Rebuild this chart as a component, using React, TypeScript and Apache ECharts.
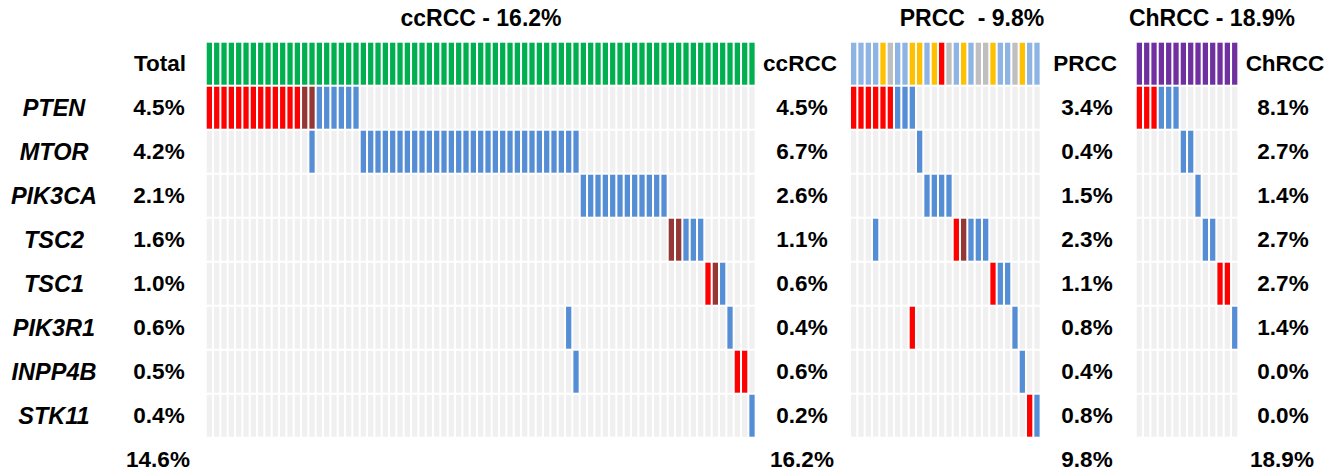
import React, { useEffect, useRef } from "react";
import * as echarts from "echarts";

// ---------------- data ----------------
const genes = ["PTEN", "MTOR", "PIK3CA", "TSC2", "TSC1", "PIK3R1", "INPP4B", "STK11"];
const rowLabels = ["Total", ...genes];

const overallPct = ["4.5%", "4.2%", "2.1%", "1.6%", "1.0%", "0.6%", "0.5%", "0.4%"];
const overallTotal = "14.6%";

const ccTitle = "ccRCC - 16.2%";
const prTitle = "PRCC  - 9.8%";
const chTitle = "ChRCC - 18.9%";

const ccPct = ["4.5%", "6.7%", "2.6%", "1.1%", "0.6%", "0.4%", "0.6%", "0.2%"];
const prPct = ["3.4%", "0.4%", "1.5%", "2.3%", "1.1%", "0.8%", "0.4%", "0.8%"];
const chPct = ["8.1%", "2.7%", "1.4%", "2.7%", "2.7%", "1.4%", "0.0%", "0.0%"];
const ccTotalPct = "16.2%";
const prTotalPct = "9.8%";
const chTotalPct = "18.9%";

// sample counts per panel (one column per altered sample)
const ccSamples = 75;
const prSamples = 26;
const chSamples = 14;

// codes: R = red, B = dark red, U = blue, G = green, P = purple, L = light blue, Y = yellow, S = grey
// alteration runs per row: [firstSample, lastSample, code]
const ccTotalRow = "GGGGGGGGGGGGGGGGGGGGGGGGGGGGGGGGGGGGGGGGGGGGGGGGGGGGGGGGGGGGGGGGGGGGGGGGGGG";
const ccGeneRuns = [
  [[0, 12, "R"], [13, 14, "B"], [15, 20, "U"]],
  [[14, 14, "U"], [21, 50, "U"]],
  [[51, 62, "U"]],
  [[63, 64, "B"], [65, 67, "U"]],
  [[68, 68, "R"], [69, 69, "B"], [70, 70, "U"]],
  [[49, 49, "U"], [71, 71, "U"]],
  [[50, 50, "U"], [72, 73, "R"]],
  [[74, 74, "U"]],
];

const prTotalRow = "LLLLYSLLYYLYRSLYLSSYLLSYLL";
const prGeneRuns = [
  [[0, 5, "R"], [6, 8, "U"]],
  [[9, 9, "U"]],
  [[10, 13, "U"]],
  [[3, 3, "U"], [14, 14, "R"], [15, 15, "B"], [16, 18, "U"]],
  [[19, 19, "R"], [20, 21, "U"]],
  [[8, 8, "R"], [22, 22, "U"]],
  [[23, 23, "U"]],
  [[24, 24, "R"], [25, 25, "U"]],
];

const chTotalRow = "PPPPPPPPPPPPPP";
const chGeneRuns = [
  [[0, 2, "R"], [3, 5, "U"]],
  [[6, 7, "U"]],
  [[8, 8, "U"]],
  [[9, 10, "U"]],
  [[11, 12, "R"]],
  [[13, 13, "U"]],
  [],
  [],
];

// ---------------- styles ----------------
const codes = [".", "R", "B", "U", "G", "P", "L", "Y", "S"];
const palette = ["#F0F0F0", "#FF0000", "#953735", "#558ED5", "#00B050", "#7030A0", "#8DB4E2", "#FFC000", "#BFBFBF"];
const FONT = '"Liberation Sans", Arial, sans-serif';

function buildData(n: number, totalRow: string, runs: any[][]) {
  const out: number[][] = [];
  for (let c = 0; c < n; c++) out.push([c, 0, codes.indexOf(totalRow[c])]);
  runs.forEach((geneRuns, gi) => {
    const row: string[] = [];
    for (let c = 0; c < n; c++) row.push(".");
    geneRuns.forEach((r: any[]) => {
      for (let c = r[0]; c <= r[1]; c++) row[c] = r[2];
    });
    for (let c = 0; c < n; c++) out.push([c, gi + 1, codes.indexOf(row[c])]);
  });
  return out;
}

const TOP = 41.7;
const ROWH = 44;
const HEIGHT = ROWH * rowLabels.length;
const PITCH = 7.333;

const panels = [
  { left: 205.7, n: ccSamples, data: buildData(ccSamples, ccTotalRow, ccGeneRuns) },
  { left: 850, n: prSamples, data: buildData(prSamples, prTotalRow, prGeneRuns) },
  { left: 1135.7, n: chSamples, data: buildData(chSamples, chTotalRow, chGeneRuns) },
];

function rowY(i: number) {
  return TOP + ROWH * i + ROWH / 2;
}

function txt(text: string, x: number, y: number, opts: any = {}) {
  return {
    type: "text",
    x,
    y,
    silent: true,
    style: {
      text,
      fill: "#000",
      align: opts.align || "center",
      verticalAlign: "middle",
      fontFamily: FONT,
      fontWeight: "bold",
      fontStyle: opts.italic ? "italic" : "normal",
      fontSize: opts.size || 22.5,
    },
  };
}

export default function App() {
  const ref = useRef<HTMLDivElement>(null);
  useEffect(() => {
    if (!ref.current) return;
    const chart = echarts.init(ref.current, undefined, { renderer: "svg" });

    const grids = panels.map((p) => ({
      left: p.left,
      top: TOP,
      width: p.n * PITCH,
      height: HEIGHT,
      containLabel: false,
    }));
    const xAxes = panels.map((p, i) => ({
      type: "category",
      gridIndex: i,
      data: Array.from({ length: p.n }, (_, k) => String(k)),
      show: false,
    }));
    const yAxes = panels.map((_, i) => ({
      type: "category",
      gridIndex: i,
      inverse: true,
      data: rowLabels,
      show: false,
    }));
    const series = panels.map((p, i) => ({
      type: "custom",
      xAxisIndex: i,
      yAxisIndex: i,
      silent: true,
      data: p.data,
      renderItem: (params: any, api: any) => {
        const c = api.coord([api.value(0), api.value(1)]);
        const s = api.size([1, 1]);
        const w = s[0] * 0.72;
        const h = s[1] - 2;
        return {
          type: "rect",
          shape: { x: c[0] - w / 2, y: c[1] - h / 2, width: w, height: h },
          style: { fill: palette[api.value(2)] },
        };
      },
    }));

    const graphics: any[] = [];
    // titles
    graphics.push(txt(ccTitle, 481, 18, { size: 23 }));
    graphics.push(txt(prTitle, 972, 18, { size: 23 }));
    graphics.push(txt(chTitle, 1212, 18, { size: 23 }));
    // row labels
    graphics.push(txt("Total", 160, rowY(0)));
    genes.forEach((g, i) => graphics.push(txt(g, 54, rowY(i + 1), { italic: true, size: 23.5 })));
    overallPct.forEach((v, i) => graphics.push(txt(v, 159, rowY(i + 1))));
    graphics.push(txt(overallTotal, 158, 459));
    // right side of panels
    graphics.push(txt("ccRCC", 800, rowY(0)));
    ccPct.forEach((v, i) => graphics.push(txt(v, 802, rowY(i + 1))));
    graphics.push(txt(ccTotalPct, 802, 459));
    graphics.push(txt("PRCC", 1085, rowY(0)));
    prPct.forEach((v, i) => graphics.push(txt(v, 1087, rowY(i + 1))));
    graphics.push(txt(prTotalPct, 1087, 459));
    graphics.push(txt("ChRCC", 1285, rowY(0)));
    chPct.forEach((v, i) => graphics.push(txt(v, 1283, rowY(i + 1))));
    graphics.push(txt(chTotalPct, 1282, 459));

    chart.setOption({
      animation: false,
      backgroundColor: "#ffffff",
      grid: grids,
      xAxis: xAxes,
      yAxis: yAxes,
      series,
      graphic: { elements: graphics },
    } as any);
    return () => chart.dispose();
  }, []);
  return (
    <div
      ref={ref}
      style={{ position: "fixed", left: 0, top: 0, width: 1340, height: 470, background: "#fff" }}
    />
  );
}
